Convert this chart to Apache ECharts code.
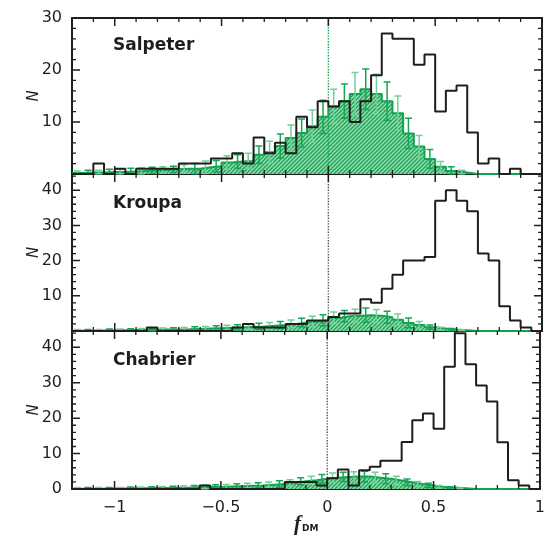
<!DOCTYPE html>
<html><head><meta charset="utf-8">
<script src="https://cdn.jsdelivr.net/npm/echarts/dist/echarts.min.js"></script>
<style>html,body{margin:0;padding:0;background:#fff}#c{width:548px;height:539px}</style>
</head><body><div id="c"></div>
<script>
// ---- data ----
const binEdges = [-1.2,-1.15,-1.1,-1.05,-1.0,-0.95,-0.9,-0.85,-0.8,-0.75,-0.7,-0.65,-0.6,-0.55,-0.5,-0.45,-0.4,-0.35,-0.3,-0.25,-0.2,-0.15,-0.1,-0.05,0,0.05,0.1,0.15,0.2,0.25,0.3,0.35,0.4,0.45,0.5,0.55,0.6,0.65,0.7,0.75,0.8,0.85,0.9,0.95,1.0];
const panelNames = ['Salpeter','Kroupa','Chabrier'];
const xTickValues = [-1,-0.5,0,0.5,1];
const xMinorTickValues = [-1.1,-0.9,-0.8,-0.7,-0.6,-0.4,-0.3,-0.2,-0.1,0.1,0.2,0.3,0.4,0.6,0.7,0.8,0.9];
const yMajorTickValues = [10,20,30,40];
const yMinorTickValues = [2,4,6,8,12,14,16,18,22,24,26,28,32,34,36,38,42,44];
const yMaxes = [30, 44.6, 44.6];

const obsSalpeter = [0,0,2,0,1,0,1,1,1,1, 2,2,2,3,3,4,2,7,4,6, 4,11,9,14,13,14,10,14,19,27, 26,26,21,23,12,16,17,8,2,3, 0,1,0,0];
const simSalpeter = [0.2,0.3,0.3,0.4,0.4,0.5,0.6,0.7,0.8,0.9, 1.0,1.0,1.3,1.5,2.2,2.4,2.5,3.7,4.2,5.4, 6.9,7.9,9.2,11,13,14,15.4,16.3,15.4,14, 11.7,7.8,5.3,2.9,1.4,0.6,0.3,0,0,0, 0,0,0,0];
const errSalpeter = [0.4,0.4,0.4,0.5,0.5,0.6,0.6,0.6,0.6,0.6, 0.8,1.0,1.2,1.1,1.3,1.3,1.5,1.7,2.1,2.3, 2.5,2.7,3.1,3.2,3.3,3.3,4.1,3.9,3.8,3.7, 3.3,2.9,2.1,1.8,1.0,0.8,0.4,0,0,0, 0,0,0,0];

const obsKroupa = [0,0,0,0,0,0,0,1,0,0, 0,0,0,0,0,1,2,1,1,1, 2,2,3,3,4,5,5,9,8,12, 16,20,20,21,37,40,37,34,22,20, 7,3,1,0];
const simKroupa = [0.1,0.1,0.15,0.2,0.2,0.25,0.3,0.35,0.4,0.45, 0.5,0.6,0.7,0.8,0.9,1.0,1.2,1.3,1.5,1.7, 2.0,2.4,2.7,3.0,3.7,4.2,4.3,4.5,4.3,3.9, 3.2,2.3,1.7,1.1,0.7,0.4,0.2,0,0,0, 0,0,0,0];
const errKroupa = [0.3,0.3,0.3,0.35,0.35,0.4,0.4,0.45,0.45,0.5, 0.5,0.6,0.6,0.7,0.7,0.8,0.8,0.9,0.9,1.0, 1.1,1.2,1.5,1.6,1.7,1.6,1.9,2.0,1.8,1.7, 1.6,1.4,1.0,0.6,0.4,0.3,0.15,0,0,0, 0,0,0,0];

const obsChabrier = [0,0,0,0,0,0,0,0,0,0, 0,0,1,0,0,0,0,0,0,0, 2,2,2,1,3,5.5,1,5.3,6.3,8, 8,13.3,19.4,21.3,17,34.5,44,35.2,29.2,24.7, 13.2,2.5,1,0];
const simChabrier = [0.1,0.1,0.1,0.15,0.15,0.2,0.2,0.25,0.3,0.35, 0.4,0.5,0.55,0.6,0.7,0.8,0.9,1.0,1.2,1.4, 1.7,2.2,2.5,2.9,3.2,3.4,3.5,3.5,3.2,2.9, 2.4,1.9,1.4,1.0,0.6,0.4,0.2,0,0,0, 0,0,0,0];
const errChabrier = [0.3,0.3,0.3,0.3,0.3,0.35,0.35,0.4,0.4,0.45, 0.5,0.5,0.55,0.6,0.6,0.65,0.7,0.75,0.8,0.9, 0.9,1.0,1.1,1.2,1.3,1.3,1.4,1.5,1.5,1.4, 1.2,0.9,0.7,0.6,0.4,0.25,0.1,0,0,0, 0,0,0,0];

const obsAll = [obsSalpeter, obsKroupa, obsChabrier];
const simAll = [simSalpeter, simKroupa, simChabrier];
const errAll = [errSalpeter, errKroupa, errChabrier];

// ---- styling / layout ----
const INK = '#1e1e1e';
const GREEN = '#12a34f';
const ERR_LIGHT = '#6fd197';
const ERR_DARK = '#15a653';
const FONT = 'DejaVu Sans';
const CAP_PX = 3.5;
const MAJOR_TICK_PX = 8, MINOR_TICK_PX = 4;
const X_MIN = -1.2, X_MAX = 1;
const CHART_W = 548, GRID_LEFT = 72, GRID_RIGHT = 6;
const PLOT_W = CHART_W - GRID_LEFT - GRID_RIGHT;

function hatch() {
  const c = document.createElement('canvas');
  c.width = 4; c.height = 4;
  const g = c.getContext('2d');
  g.fillStyle = '#96dcb1'; g.fillRect(0,0,4,4);
  g.strokeStyle = '#1ca557'; g.lineWidth = 1.3;
  g.beginPath();
  g.moveTo(-1,5); g.lineTo(5,-1);
  g.moveTo(-1,1); g.lineTo(1,-1);
  g.moveTo(3,5); g.lineTo(5,3);
  g.stroke();
  return c;
}
const hatchCanvas = hatch();

const grids = [
  {left:GRID_LEFT, right:GRID_RIGHT, top:18, height:156},
  {left:GRID_LEFT, right:GRID_RIGHT, top:174, height:157},
  {left:GRID_LEFT, right:GRID_RIGHT, top:331, height:158}
];
const xPerPx = (X_MAX - X_MIN) / PLOT_W;

function stepData(vals){
  return binEdges.map((e,i)=>[e, i < vals.length ? vals[i] : vals[vals.length-1]]);
}
function errSegments(vals, errs, parity){
  const out = [];
  const cap = CAP_PX * xPerPx;
  for (let i=0;i<vals.length;i++){
    if (vals[i] <= 0 || i % 2 !== parity) continue;
    const c = (binEdges[i]+binEdges[i+1])/2;
    const hi = vals[i] + errs[i], lo = Math.max(0, vals[i] - errs[i]);
    out.push([c, lo], [c, hi], null,
             [c - cap, hi], [c + cap, hi], null,
             [c - cap, lo], [c + cap, lo], null);
  }
  return out;
}
// inward tick marks on all four sides, placed through the panel's own value scales
function tickSegments(p, xs, ys, lenPx){
  const ymax = yMaxes[p];
  const dy = lenPx * ymax / grids[p].height;
  const dx = lenPx * xPerPx;
  const out = [];
  xs.forEach(v => { out.push([v,0],[v,dy],null,[v,ymax],[v,ymax-dy],null); });
  ys.filter(v => v < ymax).forEach(v => { out.push([X_MIN,v],[X_MIN+dx,v],null,[X_MAX-dx,v],[X_MAX,v],null); });
  return out;
}
function fmtX(v){ return v < 0 ? '\u2212' + Math.abs(v) : String(v); }

const xAxes = [], yAxes = [], series = [];
for (let p=0;p<3;p++){
  const lastPanel = p === 2;
  const xi = xAxes.length, yi = yAxes.length;
  xAxes.push({type:'value', gridIndex:p, min:X_MIN, max:X_MAX, position:'bottom', splitLine:{show:false},
    axisLine:{show:true, onZero:false, lineStyle:{color:INK, width:2}},
    axisTick:{show:false},
    axisLabel:{show:lastPanel, customValues:xTickValues, formatter:fmtX, color:INK, fontFamily:FONT, fontSize:16, margin:11}
  });
  xAxes.push({type:'value', gridIndex:p, min:X_MIN, max:X_MAX, position:'top', splitLine:{show:false},
    axisLine:{show:true, onZero:false, lineStyle:{color:INK, width:2}},
    axisTick:{show:false}, axisLabel:{show:false}
  });
  yAxes.push({type:'value', gridIndex:p, min:0, max:yMaxes[p], interval:10, position:'left', splitLine:{show:false},
    axisLine:{show:true, onZero:false, lineStyle:{color:INK, width:2}},
    axisTick:{show:false},
    axisLabel:{show:true, color:INK, fontFamily:FONT, fontSize:16, margin:10,
      showMinLabel: lastPanel, showMaxLabel: p === 0},
    name:'N', nameLocation:'middle', nameGap:30, nameRotate:90, nameMoveOverlap:false,
    nameTextStyle:{fontFamily:FONT, fontStyle:'italic', fontSize:15, color:INK}
  });
  yAxes.push({type:'value', gridIndex:p, min:0, max:yMaxes[p], interval:10, position:'right', splitLine:{show:false},
    axisLine:{show:true, onZero:false, lineStyle:{color:INK, width:2}},
    axisTick:{show:false}, axisLabel:{show:false}
  });

  const common = {xAxisIndex:xi, yAxisIndex:yi, symbol:'none', silent:true};
  series.push(Object.assign({type:'line', step:'end',
    data: stepData(simAll[p]),
    lineStyle:{color:GREEN, width:2},
    areaStyle:{color:{image:hatchCanvas, repeat:'repeat'}, opacity:1}
  }, common));
  [0,1].forEach(par => {
    series.push(Object.assign({type:'line', connectNulls:false,
      data: errSegments(simAll[p], errAll[p], par),
      lineStyle:{color: par === 0 ? ERR_LIGHT : ERR_DARK, width:1.5}
    }, common));
  });
  series.push(Object.assign({type:'line',
    data:[[0,0],[0,yMaxes[p]]],
    lineStyle:{type:'dotted', width:1.4, color: p === 0 ? GREEN : '#555'}
  }, common));
  series.push(Object.assign({type:'line', step:'end',
    data: stepData(obsAll[p]),
    lineStyle:{color:INK, width:2}
  }, common));
  series.push(Object.assign({type:'line', connectNulls:false,
    data: tickSegments(p, xTickValues, yMajorTickValues, MAJOR_TICK_PX),
    lineStyle:{color:INK, width:1.5}
  }, common));
  series.push(Object.assign({type:'line', connectNulls:false,
    data: tickSegments(p, xMinorTickValues, yMinorTickValues, MINOR_TICK_PX),
    lineStyle:{color:INK, width:1.3}
  }, common));
}

const panelLabelTop = [37, 195, 352];
const titles = panelNames.map((n,i)=>({text:n, left:113, top:panelLabelTop[i], padding:0,
  textStyle:{fontFamily:FONT, fontWeight:'bold', fontSize:17, color:INK}}));
titles.push({text:'{f|f}{s|DM}', left:294, top:514, padding:0,
  textStyle:{rich:{f:{fontFamily:'Liberation Serif', fontStyle:'italic', fontWeight:'bold', fontSize:21, color:INK},
                   s:{fontFamily:FONT, fontWeight:'bold', fontSize:9, color:INK, padding:[8,0,0,1]}}}});

const chart = echarts.init(document.getElementById('c'));
chart.setOption({animation:false, title:titles, grid:grids, xAxis:xAxes, yAxis:yAxes, series:series});
</script></body></html>
